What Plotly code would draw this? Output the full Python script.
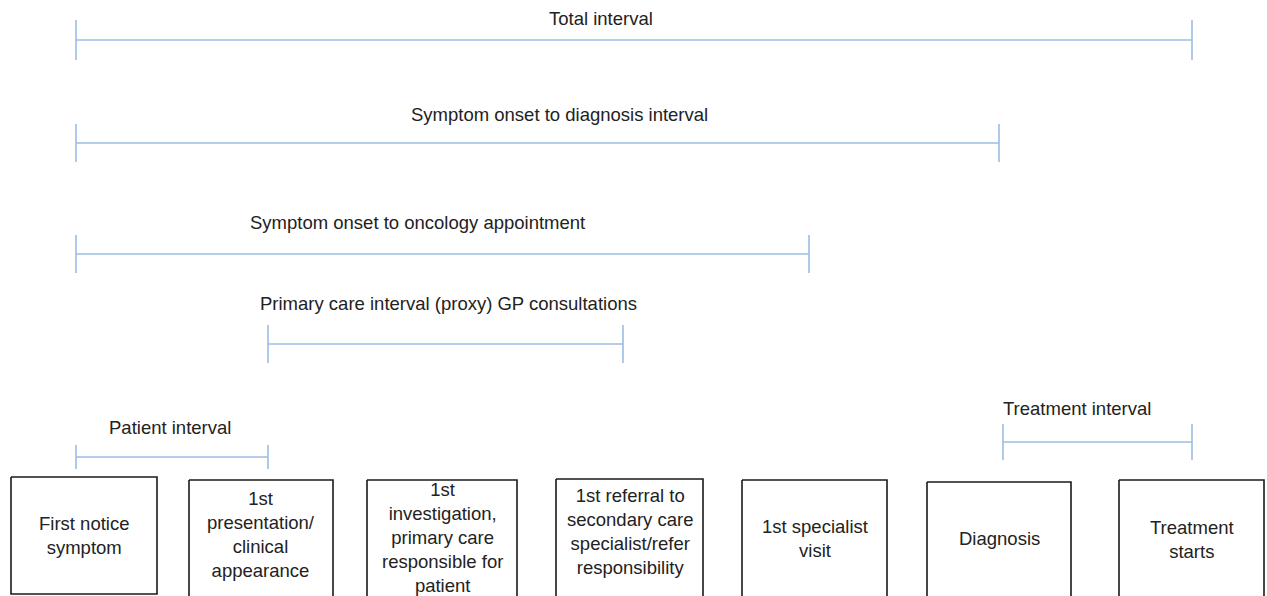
import plotly.graph_objects as go

# Interval timeline (x positions on the pathway axis)
interval_names = ["Total interval", "Symptom onset to diagnosis interval",
                  "Symptom onset to oncology appointment",
                  "Primary care interval (proxy) GP consultations",
                  "Patient interval", "Treatment interval"]
interval_start = [76, 76, 76, 268, 76, 1003]
interval_end = [1192, 999, 809, 623, 268, 1192]
interval_row = [40, 143, 254, 344, 457, 442]
tick_half = [20, 19, 19, 19, 12, 18]
label_x = [601, 559, 417, 448, 170, 1077]
label_y = [18, 114, 222, 303, 427, 408]

# Pathway stages (boxes)
stage_labels = ["First notice<br>symptom", "1st<br>presentation/<br>clinical<br>appearance",
                "1st<br>investigation,<br>primary care<br>responsible for<br>patient",
                "1st referral to<br>secondary care<br>specialist/refer<br>responsibility",
                "1st specialist<br>visit", "Diagnosis", "Treatment<br>starts"]
box_left = [11, 189, 367, 556, 742, 927, 1119]
box_right = [157, 333, 517, 703, 887, 1071, 1264]
box_top = [477, 480, 480, 479, 480, 482, 480]
box_bottom = [594, 600, 600, 600, 600, 600, 600]
text_y = [535, 534, 537, 531, 538, 538, 539]

LINE = "#9bbde3"
TXT = "#222222"

fig = go.Figure()

xs, ys = [], []
for s, e, r, h in zip(interval_start, interval_end, interval_row, tick_half):
    xs += [s, e, None, s, s, None, e, e, None]
    ys += [r, r, None, r - h, r + h, None, r - h, r + h, None]
fig.add_trace(go.Scatter(x=xs, y=ys, mode="lines", line=dict(color=LINE, width=1.6),
                         hoverinfo="skip", showlegend=False))

for name, lx, ly in zip(interval_names, label_x, label_y):
    fig.add_annotation(x=lx, y=ly, text=name, showarrow=False, xanchor="center",
                       yanchor="middle", font=dict(size=18.5, color=TXT))

bx, by = [], []
for l, r, t, b in zip(box_left, box_right, box_top, box_bottom):
    bx += [l, r, r, l, l, None]
    by += [t, t, b, b, t, None]
fig.add_trace(go.Scatter(x=bx, y=by, mode="lines", line=dict(color="#1a1a1a", width=1.6),
                         hoverinfo="skip", showlegend=False))

for lab, l, r, ty in zip(stage_labels, box_left, box_right, text_y):
    fig.add_annotation(x=(l + r) / 2, y=ty, text=lab, showarrow=False, xanchor="center",
                       yanchor="middle", align="center",
                       font=dict(size=18.5, color=TXT))

fig.update_layout(
    width=1267, height=596, margin=dict(l=0, r=0, t=0, b=0),
    paper_bgcolor="white", plot_bgcolor="white",
    font=dict(family="Liberation Sans, Arial, sans-serif"),
    xaxis=dict(range=[0, 1267], visible=False, fixedrange=True),
    yaxis=dict(range=[596, 0], visible=False, fixedrange=True),
)

fig.write_html("out.html", config={"displayModeBar": False},
               post_script="document.body.style.margin='0';document.body.style.overflow='hidden';")
